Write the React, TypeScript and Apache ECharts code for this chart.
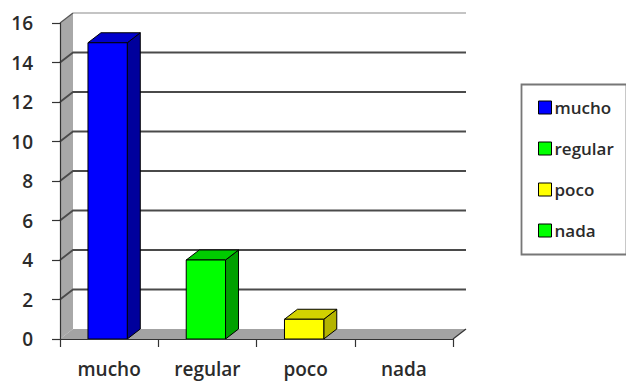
import React, { useEffect, useRef } from "react";
import * as echarts from "echarts";

// Survey answers and how many people gave each one
const categories = ["mucho", "regular", "poco", "nada"];
const counts = [15, 4, 1, 0];

// Face colours for each bar: front, right side, top
const frontColors = ["#0000ff", "#00ff00", "#ffff00", "#00ff00"];
const sideColors = ["#00009c", "#00a000", "#b4b400", "#00a000"];
const topColors = ["#0000cc", "#00cc00", "#d2d200", "#00cc00"];

// Value axis ticks
const yTicks = [0, 2, 4, 6, 8, 10, 12, 14, 16];

// Depth of the pseudo-3D projection (pixels)
const DX = 13;
const DY = -10;

const FONT = "'Open Sans', 'DejaVu Sans', sans-serif";

function renderBackdrop(params: any, api: any) {
  const cs = params.coordSys;
  const x0 = cs.x;
  const x1 = cs.x + cs.width;
  const yt = cs.y;
  const yb = cs.y + cs.height;
  const children: any[] = [];

  // left side wall
  children.push({
    type: "polygon",
    shape: { points: [[x0, yb], [x0, yt], [x0 + DX, yt + DY], [x0 + DX, yb + DY]] },
    style: { fill: "#a8a8a8", stroke: null },
  });
  // back wall
  children.push({
    type: "rect",
    shape: { x: x0 + DX, y: yt + DY, width: cs.width, height: cs.height },
    style: { fill: "#ffffff", stroke: null },
  });
  // top edge of the back wall
  children.push({
    type: "line",
    shape: { x1: x0 + DX, y1: yt + DY, x2: x1 + DX, y2: yt + DY },
    style: { stroke: "#c4c4c4", lineWidth: 2 },
  });

  // gridlines wrapping from the front axis onto the back wall
  yTicks.forEach((v) => {
    if (v === 0) return;
    const y = api.coord([0, v])[1];
    if (v === yTicks[yTicks.length - 1]) {
      children.push({
        type: "line",
        shape: { x1: x0, y1: y, x2: x0 + DX, y2: y + DY },
        style: { stroke: "#555555", lineWidth: 1.2 },
      });
      return;
    }
    children.push({
      type: "polyline",
      shape: { points: [[x0, y], [x0 + DX, y + DY], [x1 + DX, y + DY]] },
      style: { stroke: "#4a4a4a", lineWidth: 1.8, fill: null },
    });
  });

  // floor
  children.push({
    type: "polygon",
    shape: { points: [[x0, yb], [x1, yb], [x1 + DX, yb + DY], [x0 + DX, yb + DY]] },
    style: { fill: "#a3a3a3", stroke: null },
  });
  children.push({
    type: "line",
    shape: { x1: x1, y1: yb, x2: x1 + DX, y2: yb + DY },
    style: { stroke: "#333333", lineWidth: 1.2 },
  });

  return { type: "group", children };
}

function renderBar(params: any, api: any) {
  const idx = api.value(0);
  const v = api.value(1);
  if (!(v > 0)) return { type: "group", children: [] };
  const top = api.coord([idx, v]);
  const base = api.coord([idx, 0]);
  const w = api.size([1, 0])[0] * 0.4;
  // the front face sits slightly left of the slot centre so the box reads centred
  const cx = top[0] - 1.5;
  const xl = cx - w / 2;
  const xr = cx + w / 2;
  const yt = top[1];
  const yb = base[1];
  const stroke = { stroke: "#000000", lineWidth: 1, lineJoin: "round" };
  return {
    type: "group",
    children: [
      {
        type: "polygon",
        shape: { points: [[xr, yt], [xr + DX, yt + DY], [xr + DX, yb + DY], [xr, yb]] },
        style: { fill: sideColors[idx], ...stroke },
      },
      {
        type: "polygon",
        shape: { points: [[xl, yt], [xl + DX, yt + DY], [xr + DX, yt + DY], [xr, yt]] },
        style: { fill: topColors[idx], ...stroke },
      },
      {
        type: "rect",
        shape: { x: xl, y: yt, width: w, height: yb - yt },
        style: { fill: frontColors[idx], ...stroke },
      },
    ],
  };
}

export default function App() {
  const ref = useRef<HTMLDivElement>(null);

  useEffect(() => {
    if (!ref.current) return;
    const chart = echarts.init(ref.current, null, { renderer: "svg" });

    const barSeries = categories.map((name, i) => ({
      type: "custom",
      name,
      z: 3,
      renderItem: renderBar,
      itemStyle: { color: frontColors[i], borderColor: "#000", borderWidth: 1 },
      encode: { x: 0, y: 1 },
      data: [[i, counts[i]]],
    }));

    chart.setOption({
      animation: false,
      backgroundColor: "#ffffff",
      grid: { left: 60, top: 23, width: 393, height: 316, containLabel: false },
      xAxis: {
        type: "category",
        data: categories,
        boundaryGap: true,
        z: 5,
        axisLine: { lineStyle: { color: "#333333", width: 1.2 } },
        axisTick: { show: true, length: 8, lineStyle: { color: "#333333", width: 1.2 } },
        axisLabel: {
          margin: 20,
          fontFamily: FONT,
          fontSize: 19,
          fontWeight: 600,
          color: "#2b2b2b",
        },
        splitLine: { show: false },
      },
      yAxis: {
        type: "value",
        min: 0,
        max: 16,
        interval: 2,
        z: 5,
        axisLine: { show: true, lineStyle: { color: "#333333", width: 1.2 } },
        axisTick: { show: true, length: 8, lineStyle: { color: "#333333", width: 1.2 } },
        axisLabel: {
          margin: 27,
          fontFamily: FONT,
          fontSize: 19,
          fontWeight: 600,
          color: "#2b2b2b",
        },
        splitLine: { show: false },
      },
      legend: {
        orient: "vertical",
        left: 533,
        top: 94,
        icon: "rect",
        itemWidth: 13,
        itemHeight: 13,
        itemGap: 24,
        selectedMode: false,
        textStyle: { fontFamily: FONT, fontSize: 17, fontWeight: 600, color: "#2b2b2b", padding: [0, 0, 0, -2] },
        data: categories.map((name, i) => ({
          name,
          itemStyle: { color: frontColors[i], borderColor: "#000000", borderWidth: 1 },
        })),
      },
      graphic: [
        {
          type: "rect",
          left: 519,
          top: 82,
          shape: { width: 105, height: 170 },
          style: { fill: "none", stroke: "#777777", lineWidth: 1.8 },
          silent: true,
        },
      ],
      series: [
        {
          type: "custom",
          name: "backdrop",
          z: 1,
          silent: true,
          renderItem: renderBackdrop,
          encode: { x: 0, y: 1 },
          data: [[0, 0]],
        },
        ...barSeries,
      ],
    });

    return () => chart.dispose();
  }, []);

  return (
    <div
      ref={ref}
      style={{ position: "fixed", left: 0, top: 0, width: 626, height: 386 }}
    />
  );
}
